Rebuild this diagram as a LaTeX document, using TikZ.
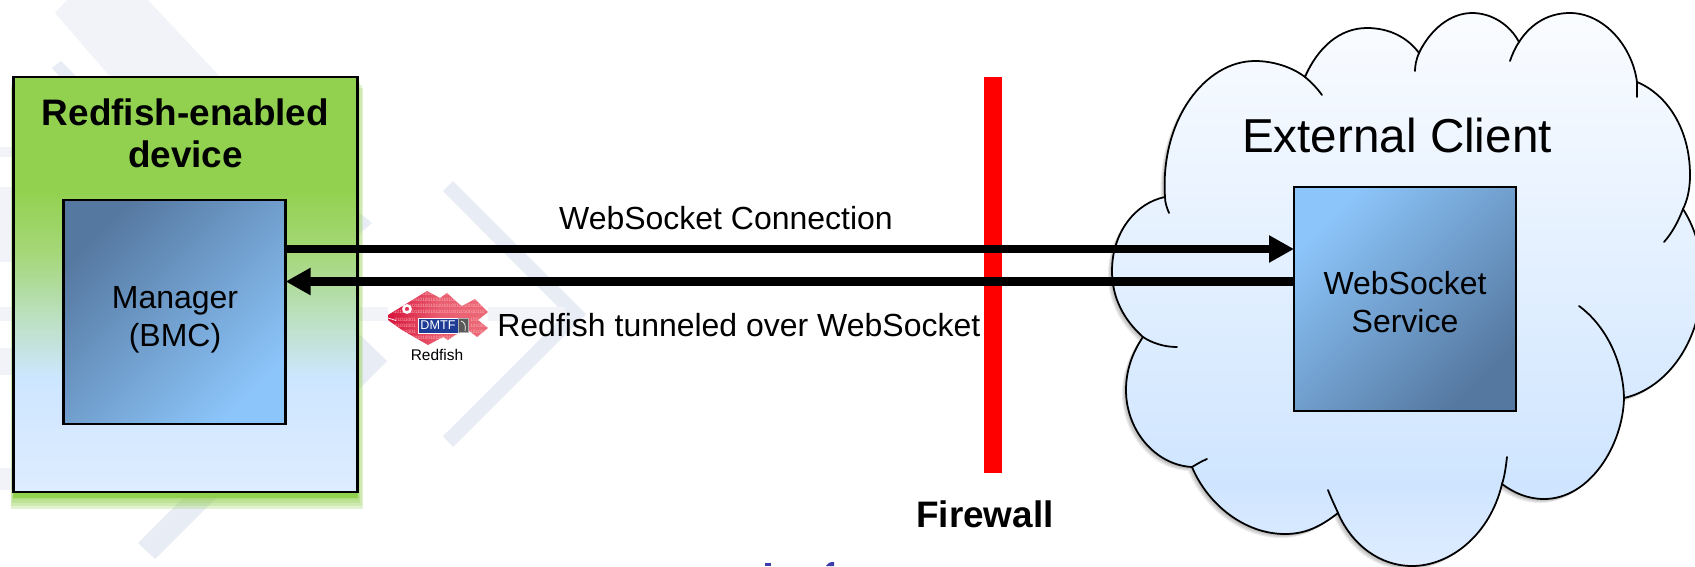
\documentclass[tikz,border=0pt]{standalone}
\usepackage{fontspec}
\setmainfont{Liberation Sans}
\usepackage{tikz}
\usetikzlibrary{arrows.meta}
\definecolor{deviceGreen}{RGB}{146, 209, 79}
\definecolor{paleBlue}{RGB}{222, 236, 255}
\definecolor{midBlue}{RGB}{205, 230, 255}
\definecolor{stepGreenA}{RGB}{165, 215, 120}
\definecolor{stepGreenB}{RGB}{190, 225, 200}
\definecolor{cloudTop}{RGB}{250, 252, 255}
\definecolor{cloudLow}{RGB}{207, 229, 255}
\definecolor{boxDark}{RGB}{85, 120, 160}
\definecolor{boxLight}{RGB}{140, 197, 250}
\definecolor{markPale}{RGB}{241, 243, 248}
\definecolor{markBlue}{RGB}{232, 236, 245}
\definecolor{fishDark}{RGB}{215, 20, 60}
\definecolor{fishLight}{RGB}{236, 105, 120}
\definecolor{fishBit}{RGB}{250, 175, 180}
\definecolor{dmtfBlue}{RGB}{30, 60, 150}
\definecolor{logoBlue}{RGB}{60, 60, 170}
\pgfdeclareverticalshading{deviceshade}{100bp}{
    color(0bp)=(paleBlue); color(25bp)=(paleBlue); color(38.7bp)=(midBlue);
    color(45.2bp)=(stepGreenB); color(53.9bp)=(stepGreenA);
    color(61.4bp)=(deviceGreen); color(100bp)=(deviceGreen)}
\pgfdeclareverticalshading{cloudshade}{100bp}{
    color(0bp)=(paleBlue); color(25bp)=(paleBlue); color(32.3bp)=(cloudLow);
    color(75bp)=(cloudTop); color(100bp)=(cloudTop)}
\newcommand{\cloudoutline}{
    (1165,197) .. controls (1160,120) and (1205,61) .. (1255,61)
    .. controls (1273,61) and (1292,67) .. (1305,77)
    .. controls (1318,47) and (1340,28) .. (1367,28)
    .. controls (1390,28) and (1408,38) .. (1419,53)
    .. controls (1430,30) and (1450,13) .. (1472,13)
    .. controls (1492,13) and (1510,25) .. (1519,42)
    .. controls (1532,22) and (1550,13) .. (1570,13)
    .. controls (1603,13) and (1632,45) .. (1637,82)
    .. controls (1668,95) and (1690,130) .. (1690,175)
    .. controls (1690,190) and (1687,201) .. (1683,209)
    .. controls (1695,228) and (1702,250) .. (1702,280)
    .. controls (1702,340) and (1668,388) .. (1624,398)
    .. controls (1623,445) and (1590,499) .. (1544,499)
    .. controls (1528,499) and (1514,493) .. (1502,484)
    .. controls (1490,535) and (1450,566) .. (1412,566)
    .. controls (1380,566) and (1352,545) .. (1338,513)
    .. controls (1320,527) and (1305,534) .. (1285,534)
    .. controls (1245,534) and (1208,505) .. (1192,467)
    .. controls (1155,465) and (1126,430) .. (1126,390)
    .. controls (1126,371) and (1132,353) .. (1143,337)
    .. controls (1124,320) and (1112,298) .. (1112,271)
    .. controls (1112,233) and (1135,203) .. (1165,197) -- cycle}
\newcommand{\fishoutline}{
    (388,315) -- (427,291) -- (440,298) -- (447,293) -- (458,303) -- (462,306)
    -- (475,299) -- (488,312) -- (478,320) -- (488,328) -- (477,337) -- (468,330)
    -- (455,335) -- (448,340) -- (443,337) -- (428,345) -- (402,330) -- (388,320) -- cycle}
\tikzset{
    boxtext/.style={font=\fontsize{18.2}{21.6}\selectfont, align=center, inner sep=0pt},
    boldtext/.style={font=\fontsize{21}{23.9}\selectfont\bfseries, align=center, inner sep=0pt},
    devicebox/.style={draw=black, line width=1.5pt, shading=deviceshade, inner sep=0pt, outer sep=0pt},
    servicebox/.style={draw=black, line width=1.3pt, inner sep=0pt, outer sep=0pt},
    linkarrow/.style={line width=5.1pt, -{Triangle[length=14.2pt,width=14.6pt]}},
    tailline/.style={line width=1pt, line cap=round},
    fishbits/.style={font=\fontsize{2.7}{3}\selectfont, text=fishBit, inner sep=0pt}
}
\begin{document}
\begin{tikzpicture}[x=0.02cm,y=-0.02cm]
        \path[use as bounding box,clip] (0,0) rectangle (1695,566);
        \fill[white] (0,0) rectangle (1695,566);

        \fill[markPale] (55,13) -- (67,0) -- (148,0) -- (223,80) -- (113,80) -- cycle;
        \fill[markBlue] (52,68) -- (61,61) -- (80,80) -- (63,80) -- cycle;
        \fill[markBlue] (453,181) -- (586,314) -- (453,447) -- (443,436) -- (565,314) -- (443,191) -- cycle;
        \fill[markBlue] (350,205) -- (372,223) -- (350,242) -- cycle;
        \fill[markBlue] (350,325) -- (387,361) -- (350,398) -- cycle;
        \fill[markBlue] (138,543) -- (155,559) -- (300,414) -- (300,381) -- cycle;
        \fill[markPale] (0,307) rectangle (565,321);
        \fill[markPale] (0,147) rectangle (13,157);
        \fill[markPale] (0,187) rectangle (13,262);
        \fill[markPale] (0,348) rectangle (13,375);
        \fill[markPale] (0,468) rectangle (13,490);

        \fill[logoBlue] (765,563) rectangle (771,566);
        \fill[logoBlue] (826,566) .. controls (827,563) and (830,562) .. (834,562) -- (834,566) -- cycle;

        \foreach \b in {10,7,4,1}
            \fill[deviceGreen,opacity=0.25] ({13-\b/4},{78+\b}) rectangle ({358+\b/2},{499+\b});
        \fill[deviceGreen] (13,400) rectangle (358,498);
        \node[devicebox,minimum width=6.886cm,minimum height=8.3cm] (device) at (185.4,284.5) {};
        \node[boldtext] (devicelabel) at (185.5,133) {Redfish-enabled\\device};

        \node[servicebox,minimum width=4.44cm,minimum height=4.48cm,
              top color=boxDark,bottom color=boxLight,shading angle=45] (manager) at (174.6,312) {};
        \node[boxtext] (managerlabel) at (175,319.5) {Manager\\(BMC)};

        \fill[red] (984,77) rectangle (1002,473);
        \coordinate (firewallbase) at (985,527);
        \node[boldtext,anchor=base] (firewall) at (firewallbase) {Firewall};

        \foreach \s in {1,2,3,4}
            \fill[black,opacity=0.08,shift={(-\s,\s)}] \cloudoutline;
        \path[shading=cloudshade,draw=black,line width=1pt] \cloudoutline;
        \draw[tailline] (1305,77) .. controls (1311,82) and (1317,88) .. (1322,95);
        \draw[tailline] (1419,53) .. controls (1416,60) and (1415,66) .. (1415,71);
        \draw[tailline] (1519,42) .. controls (1515,48) and (1512,55) .. (1510,61);
        \draw[tailline] (1637,82) .. controls (1637,86) and (1637,92) .. (1637,97);
        \draw[tailline] (1683,209) .. controls (1678,222) and (1672,233) .. (1664,242);
        \draw[tailline] (1579,306) .. controls (1605,325) and (1623,360) .. (1624,398);
        \draw[tailline] (1502,484) .. controls (1505,475) and (1506,465) .. (1507,457);
        \draw[tailline] (1338,513) .. controls (1335,506) and (1331,498) .. (1328,490);
        \draw[tailline] (1192,467) .. controls (1197,464) and (1202,461) .. (1207,459);
        \draw[tailline] (1143,337) .. controls (1152,343) and (1164,347) .. (1177,347);
        \draw[tailline] (1165,197) .. controls (1165,203) and (1167,208) .. (1169,213);
        \node[font=\fontsize{27.1}{32}\selectfont,anchor=base,inner sep=0pt] (clientlabel) at (1397,152) {External Client};

        \node[servicebox,minimum width=4.44cm,minimum height=4.49cm,
              top color=boxLight,bottom color=boxDark,shading angle=45] (service) at (1405,299) {};
        \node[boxtext] (servicelabel) at (1405,302) {WebSocket\\Service};

        \coordinate (linkup) at (0,249);
        \coordinate (linkdown) at (0,281.5);
        \draw[linkarrow] (manager.east |- linkup) -- (service.west |- linkup);
        \draw[linkarrow] (service.west |- linkdown) -- (manager.east |- linkdown);
        \node[boxtext,anchor=base] (connection) at (726,229) {WebSocket Connection};
        \node[boxtext,anchor=base west] (tunnel) at (497,336) {Redfish tunneled over WebSocket};

        \fill[white] (388,290) rectangle (488,366);
        \shade[left color=fishDark,right color=fishLight,middle color=fishLight!85!fishDark] \fishoutline;
        \begin{scope}
            \clip \fishoutline;
            \foreach \r in {294,300,306,312,338}
                \node[fishbits] (bitrow\r) at (438,\r) {010110010110100101101010011010010110};
            \foreach \r in {320,326,332} {
                \node[fishbits,anchor=east] (bitleft\r) at (416,\r) {01011001};
                \node[fishbits,anchor=west] (bitright\r) at (470,\r) {1010010};
            }
        \end{scope}
        \draw[white,line width=0.4pt] (396,320.5) -- (388,318);
        \draw[white,line width=1.4pt] (407,309) circle (3.6);
        \node[fill=dmtfBlue,draw=white,line width=0.3pt,text=white,inner sep=0pt,minimum width=0.8cm,minimum height=0.3cm,
              font=\fontsize{7.2}{8}\selectfont] (dmtf) at (438,325.5) {DMTF};
        \node[fill=black!65,draw=black!30,line width=0.3pt,inner sep=0pt,minimum width=0.2cm,minimum height=0.29cm,anchor=west] (dmtfmark) at (dmtf.east) {};
        \draw[white,line width=0.4pt] (461,321) .. controls (465,322) and (466,326) .. (465,331);
        \node[font=\fontsize{8.8}{10}\selectfont,anchor=base,inner sep=0pt] (fishlabel) at (437,360) {Redfish};
    \end{tikzpicture}
\end{document}
